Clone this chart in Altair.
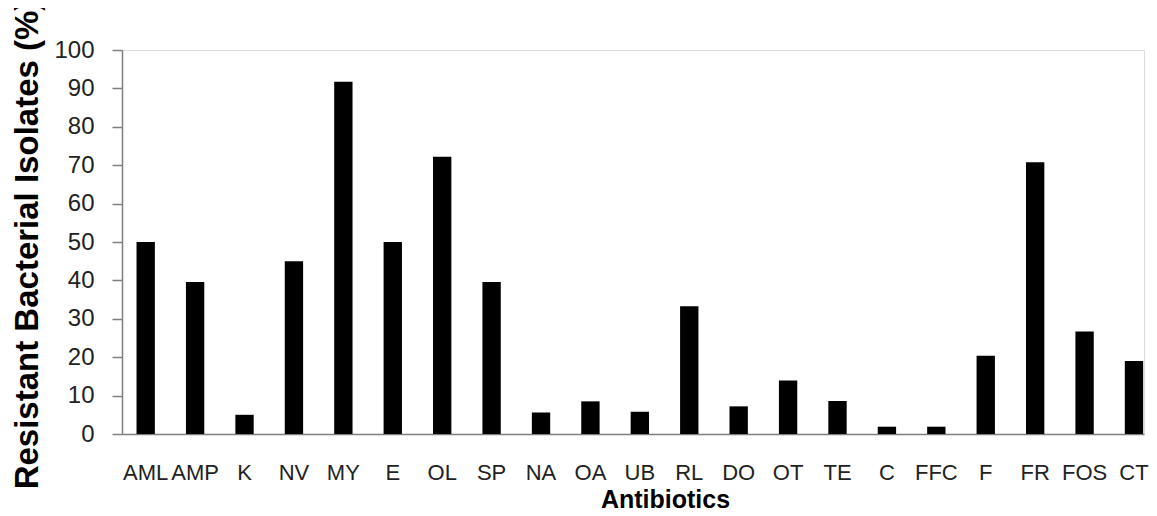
import altair as alt
import pandas as pd

antibiotics = ["AML", "AMP", "K", "NV", "MY", "E", "OL", "SP", "NA", "OA", "UB",
               "RL", "DO", "OT", "TE", "C", "FFC", "F", "FR", "FOS", "CT"]
resistant = [50, 39.6, 5, 45, 91.7, 50, 72.2, 39.6, 5.6, 8.5, 5.8,
             33.3, 7.2, 13.9, 8.6, 1.9, 1.9, 20.4, 70.8, 26.7, 19]
y_ticks = [0, 10, 20, 30, 40, 50, 60, 70, 80, 90, 100]

df = pd.DataFrame({"Antibiotic": antibiotics, "Value": resistant})

FONT = "Liberation Sans"
AXIS_COLOR = "#7f7f7f"

chart = alt.Chart(df).mark_bar(color="black").encode(
    x=alt.X(
        "Antibiotic:N",
        sort=antibiotics,
        scale=alt.Scale(paddingInner=0.6287, paddingOuter=0.1553, align=0.946),
        axis=alt.Axis(
            title="Antibiotics",
            ticks=False,
            tickSize=0,
            labelAngle=0,
            labelFont=FONT,
            labelFontSize=22,
            labelColor="#222222",
            labelPadding=28,
            labelBaseline="top",
            labelOverlap=False,
            domainColor=AXIS_COLOR,
            domainWidth=1.5,
            titleFont=FONT,
            titleFontSize=25,
            titleFontWeight="bold",
            titleColor="black",
            titleX=543,
            titleY=73,
            titleBaseline="alphabetic",
            titleAlign="center",
        ),
    ),
    y=alt.Y(
        "Value:Q",
        scale=alt.Scale(domain=[0, 100], nice=False),
        axis=alt.Axis(
            title="Resistant Bacterial Isolates (%)",
            values=y_ticks,
            grid=False,
            tickSize=10,
            tickColor=AXIS_COLOR,
            tickWidth=1.5,
            labelFont=FONT,
            labelFontSize=24,
            labelColor="#222222",
            labelPadding=18,
            domainColor=AXIS_COLOR,
            domainWidth=1.5,
            titleFont=FONT,
            titleFontSize=33,
            titleFontWeight="bold",
            titleColor="black",
            titleAngle=-90,
            titleX=-85,
            titleY=194,
            titleBaseline="alphabetic",
            titleAlign="center",
        ),
    ),
).properties(
    width=1022,
    height=384,
    autosize=alt.AutoSizeParams(type="none"),
    padding={"left": 114, "top": 42, "right": 5, "bottom": 78},
).configure_view(stroke=None).configure(background="white")

chart.save("out.html", embed_options={"renderer": "svg", "actions": False})
